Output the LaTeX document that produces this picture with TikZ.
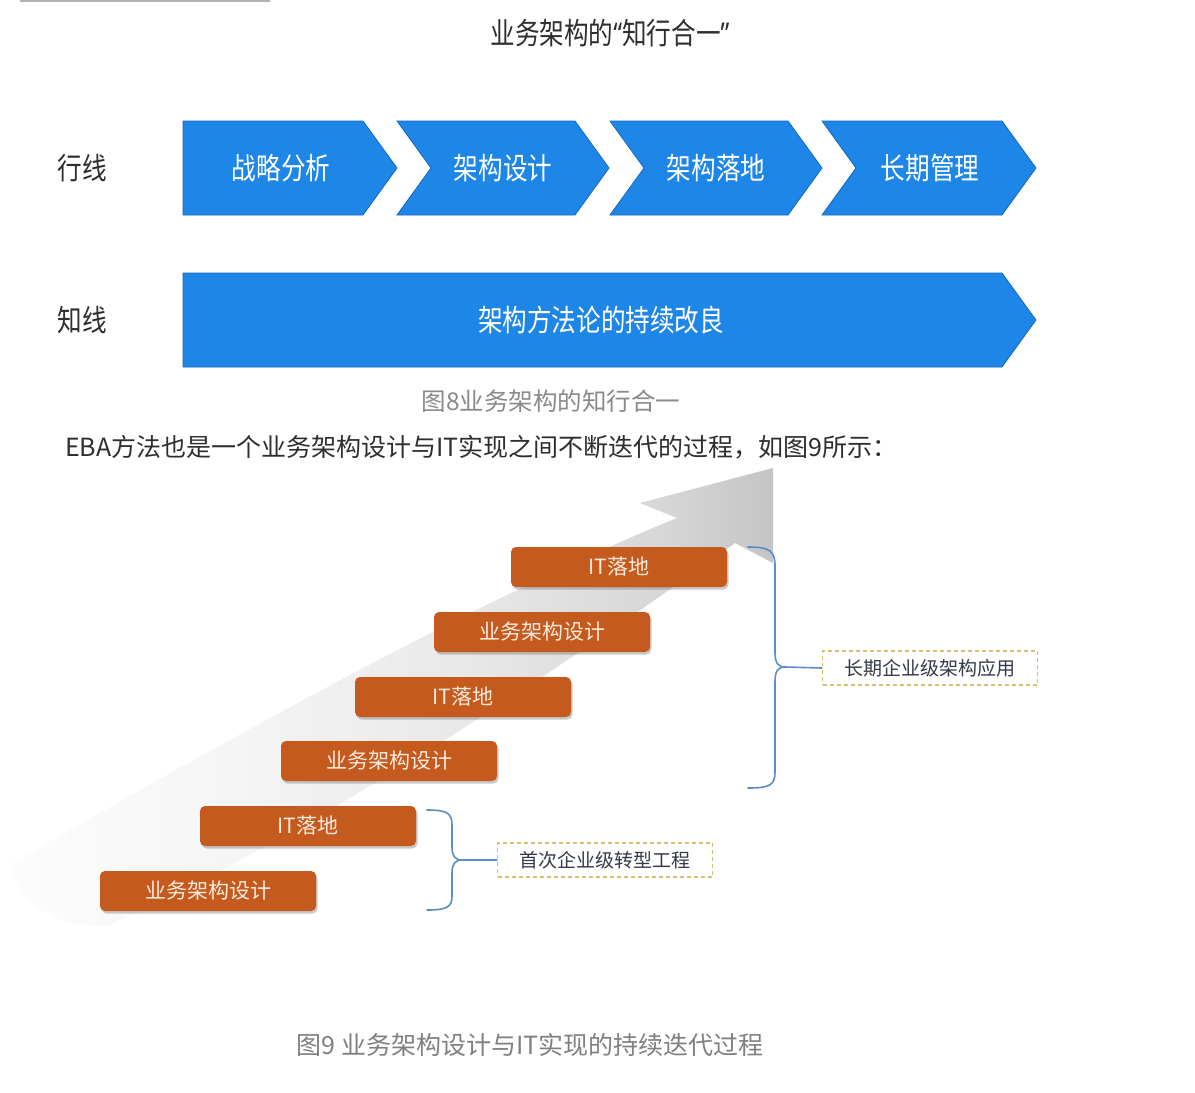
\documentclass[tikz,border=0pt]{standalone}
\usepackage{fontspec}
\setmainfont{Noto Sans CJK SC}
\newfontfamily\cjkreg{Noto Sans CJK SC}
\newfontfamily\cjkcond[FakeStretch=0.82]{Noto Sans CJK SC}
\newfontfamily\latinq[FakeStretch=0.82]{Noto Sans}
\usetikzlibrary{shadows}
\definecolor{chevblue}{HTML}{1E86E6}
\definecolor{chevedge}{HTML}{1668C4}
\definecolor{boxorange}{HTML}{C55A1F}
\definecolor{boxtext}{HTML}{FBEBDD}
\definecolor{bracecol}{HTML}{5B8DC8}
\definecolor{dashcol}{HTML}{D2C46E}
\definecolor{notetext}{HTML}{343A4A}
\definecolor{captiongray}{HTML}{8A8A8A}
\definecolor{darktext}{HTML}{2E2E2E}
\pgfdeclarehorizontalshading{arrowfade}{100bp}{color(0bp)=(white); color(25bp)=(black!1); color(40bp)=(black!4); color(55bp)=(black!9); color(68bp)=(black!16); color(75bp)=(black!23); color(100bp)=(black!23)}
\begin{document}
\begin{tikzpicture}[x=1pt,y=-1pt,
  chev/.style={fill=chevblue, draw=chevedge, line width=0.8pt},
  chevtext/.style={text=white, font=\cjkcond\fontsize{30}{36}\selectfont, inner sep=0pt},
  rowlabel/.style={text=darktext, font=\cjkcond\fontsize{30}{36}\selectfont, inner sep=0pt},
  stairbox/.style={fill=boxorange, rounded corners=5pt, minimum width=216pt, minimum height=40pt,
    text=boxtext, font=\cjkreg\fontsize{21}{25}\selectfont, inner sep=0pt,
    drop shadow={shadow xshift=1.5pt, shadow yshift=-2.5pt, opacity=0.35, fill=black!60}},
  notebox/.style={draw=dashcol, dash pattern=on 4pt off 3pt, line width=1.2pt, text=notetext,
    font=\cjkreg\fontsize{19}{23}\selectfont, minimum width=215pt, minimum height=34pt, inner sep=0pt},
  bracepath/.style={draw=bracecol, line width=1.6pt, line cap=round},
  caption/.style={text=captiongray, font=\cjkreg\fontsize{24.5}{28}\selectfont, inner sep=0pt}
]
\useasboundingbox (0,0) rectangle (1195,1093);
\fill[white] (0,0) rectangle (1195,1093);

% top rule
\draw[black!30, line width=1.5pt] (20,1) -- (270,1);

% title
\node[rowlabel] (title) at (610,33) {业务架构的{\latinq“}知行合一{\latinq”}};

% row labels
\node[rowlabel] (xing) at (82,168) {行线};
\node[rowlabel] (zhi) at (82,320) {知线};

% chevrons
\path[chev] (183,121) -- (363,121) -- (397,168) -- (363,215) -- (183,215) -- cycle;
\path[chev] (397,121) -- (575,121) -- (609,168) -- (575,215) -- (397,215) -- (431,168) -- cycle;
\path[chev] (610,121) -- (788,121) -- (822,168) -- (788,215) -- (610,215) -- (644,168) -- cycle;
\path[chev] (822,121) -- (1002,121) -- (1036,168) -- (1002,215) -- (822,215) -- (856,168) -- cycle;
\node[chevtext] (c1) at (281,168) {战略分析};
\node[chevtext] (c2) at (503,168) {架构设计};
\node[chevtext] (c3) at (716,168) {架构落地};
\node[chevtext] (c4) at (930,168) {长期管理};

\path[chev] (183,273) -- (1002,273) -- (1036,320) -- (1002,367) -- (183,367) -- cycle;
\node[chevtext] (long) at (601,320) {架构方法论的持续改良};

% caption 8
\node[caption] (cap8) at (551,401) {图8业务架构的知行合一};

% paragraph
\node[anchor=west, inner sep=0pt, text=darktext, font=\cjkreg\fontsize{25}{30}\selectfont] (para) at (65,447)
  {EBA方法也是一个业务架构设计与IT实现之间不断迭代的过程，如图9所示：};

% big gray arrow
\shade[shading=arrowfade]
  (10,865) .. controls (250,725) and (500,590) .. (677,518)
  -- (640,503) -- (773,468) -- (773,563) -- (735,543)
  .. controls (600,640) and (350,815) .. (110,925)
  .. controls (60,930) and (20,905) .. (10,865) -- cycle;

% stair boxes
\node[stairbox] (b1) at (208,891) {业务架构设计};
\node[stairbox] (b2) at (308,826) {IT落地};
\node[stairbox] (b3) at (389,761) {业务架构设计};
\node[stairbox] (b4) at (463,697) {IT落地};
\node[stairbox] (b5) at (542,632) {业务架构设计};
\node[stairbox] (b6) at (619,567) {IT落地};

% notes
\node[notebox] (n1) at (605,860) {首次企业级转型工程};
\node[notebox] (n2) at (930,668) {长期企业级架构应用};

% braces
\coordinate (t2) at (785,667);
\path[bracepath] (748,547) .. controls (770,547) and (775,551) .. (775,566) -- (775,652)
  .. controls (775,663) and (778,667) .. (t2)
  .. controls (778,667) and (775,671) .. (775,682) -- (775,772)
  .. controls (775,785) and (770,788) .. (748,788);
\draw[bracepath] (t2) -- (n2.west);

\coordinate (t1) at (462,860);
\path[bracepath] (427,810) .. controls (447,810) and (452,813) .. (452,825) -- (452,847)
  .. controls (452,856) and (455,860) .. (t1)
  .. controls (455,860) and (452,864) .. (452,873) -- (452,896)
  .. controls (452,907) and (447,910) .. (427,910);
\draw[bracepath] (t1) -- (n1.west);

% caption 9
\node[caption, text=black!50, font=\cjkreg\fontsize{25}{29}\selectfont] (cap9) at (530,1045) {图9 业务架构设计与IT实现的持续迭代过程};
\end{tikzpicture}
\end{document}
